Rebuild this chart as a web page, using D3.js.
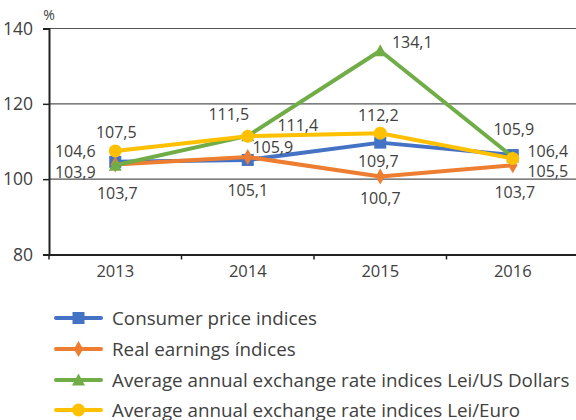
<!DOCTYPE html>
<html>
<head>
<meta charset="utf-8">
<script src="https://cdn.jsdelivr.net/npm/d3@7"></script>
<style>
  body { margin: 0; background: #fff; }
  svg { display: block; font-family: "Open Sans", sans-serif; }
</style>
</head>
<body>
<svg id="chart" width="576" height="420"></svg>
<script>
// data
const years = ['2013', '2014', '2015', '2016'];
const cpi = [104.6, 105.1, 109.7, 106.4];
const realEarnings = [103.9, 105.9, 100.7, 103.7];
const leiUsd = [103.7, 111.5, 134.1, 105.9];
const leiEuro = [107.5, 111.4, 112.2, 105.5];
const yTicks = [80, 100, 120, 140];

// where each value label sits relative to its point [dx, dy]
const cpiLabelOff = [[-40, -10], [0, 30], [-2, 19], [35, -4]];
const earnLabelOff = [[-40, 8], [25, -10], [0, 22], [2, 27]];
const usdLabelOff = [[2, 28], [-19, -21], [32, -8], [1, -28]];
const euroLabelOff = [[1, -19], [50, -11], [-2, -18], [35, 13]];

const series = [
  {name: 'Consumer price indices', values: cpi, color: '#4472C4', marker: 'square', off: cpiLabelOff},
  {name: 'Real earnings índices', values: realEarnings, color: '#ED7D31', marker: 'diamond', off: earnLabelOff},
  {name: 'Average annual exchange rate indices Lei/US Dollars', values: leiUsd, color: '#70AD47', marker: 'triangle', off: usdLabelOff},
  {name: 'Average annual exchange rate indices Lei/Euro', values: leiEuro, color: '#FFC000', marker: 'circle', off: euroLabelOff}
];

const svg = d3.select('#chart');
const textColor = '#404040';

const x = d3.scaleBand().domain(years).range([49, 579]);
const y = d3.scaleLinear().domain([80, 140]).range([254.5, 28.5]);

// gridlines
svg.append('g')
  .selectAll('line')
  .data(yTicks.filter(t => t > 80))
  .join('line')
  .attr('x1', 49).attr('x2', 579)
  .attr('y1', d => y(d)).attr('y2', d => y(d))
  .attr('stroke', '#555')
  .attr('stroke-width', 1.2);

// y axis
const yAxis = svg.append('g')
  .attr('transform', 'translate(49,0)')
  .call(d3.axisLeft(y).tickValues(yTicks).tickSize(6).tickPadding(10).tickFormat(d3.format('d')));
yAxis.select('.domain').attr('stroke', '#222').attr('stroke-width', 2);
yAxis.selectAll('.tick line').attr('stroke', '#222').attr('stroke-width', 1.5);
yAxis.selectAll('.tick text').attr('fill', textColor).style('font-size', '17.5px').style('font-family', '"Open Sans", sans-serif');

// x axis
const xAxis = svg.append('g')
  .attr('transform', `translate(0,${y(80)})`)
  .call(d3.axisBottom(x).tickSize(0).tickPadding(11));
xAxis.select('.domain').attr('stroke', '#222').attr('stroke-width', 2);
xAxis.selectAll('.tick text').attr('fill', textColor).style('font-size', '16.5px').style('font-family', '"Open Sans", sans-serif');
// tick marks between categories
svg.append('g')
  .selectAll('line')
  .data(years)
  .join('line')
  .attr('x1', d => x(d)).attr('x2', d => x(d))
  .attr('y1', y(80)).attr('y2', y(80) + 5)
  .attr('stroke', '#222')
  .attr('stroke-width', 1.5);

svg.append('text')
  .attr('x', 49).attr('y', 20)
  .attr('text-anchor', 'middle')
  .attr('fill', textColor)
  .style('font-size', '14px')
  .text('%');

function drawMarker(g, type, color, cx, cy) {
  if (type === 'square') {
    g.append('rect').attr('x', cx - 6).attr('y', cy - 6).attr('width', 12).attr('height', 12).attr('fill', color);
  } else if (type === 'diamond') {
    g.append('path').attr('d', d3.symbol(d3.symbolDiamond, 75)()).attr('transform', `translate(${cx},${cy})`).attr('fill', color);
  } else if (type === 'triangle') {
    g.append('path').attr('d', `M${cx},${cy - 6.5}L${cx + 6.5},${cy + 5.5}L${cx - 6.5},${cy + 5.5}Z`).attr('fill', color);
  } else {
    g.append('circle').attr('cx', cx).attr('cy', cy).attr('r', 6.5).attr('fill', color);
  }
}

const line = d3.line()
  .x((d, i) => x(years[i]) + x.bandwidth() / 2)
  .y(d => y(d));

series.forEach(s => {
  const g = svg.append('g');
  g.append('path')
    .datum(s.values)
    .attr('d', line)
    .attr('fill', 'none')
    .attr('stroke', s.color)
    .attr('stroke-width', 4)
    .attr('stroke-linejoin', 'round')
    .attr('stroke-linecap', 'round');
  s.values.forEach((v, i) => {
    drawMarker(g, s.marker, s.color, x(years[i]) + x.bandwidth() / 2, y(v));
  });
});

// value labels
const fmt = v => d3.format('.1f')(v).replace('.', ',');
series.forEach(s => {
  svg.append('g')
    .selectAll('text')
    .data(s.values)
    .join('text')
    .attr('x', (d, i) => x(years[i]) + x.bandwidth() / 2 + s.off[i][0])
    .attr('y', (d, i) => y(d) + s.off[i][1])
    .attr('dy', '0.35em')
    .attr('text-anchor', 'middle')
    .attr('fill', textColor)
    .style('font-size', '16px')
    .text(fmt);
});

// legend
const legend = svg.append('g');
const legendRows = [318, 349, 380, 410];
series.forEach((s, i) => {
  const row = legend.append('g');
  row.append('line')
    .attr('x1', 56).attr('x2', 101)
    .attr('y1', legendRows[i]).attr('y2', legendRows[i])
    .attr('stroke', s.color).attr('stroke-width', 4).attr('stroke-linecap', 'round');
  drawMarker(row, s.marker, s.color, 78.5, legendRows[i]);
  row.append('text')
    .attr('x', 112).attr('y', legendRows[i])
    .attr('dy', '0.35em')
    .attr('fill', textColor)
    .style('font-size', '18.8px')
    .text(s.name);
});
</script>
</body>
</html>
